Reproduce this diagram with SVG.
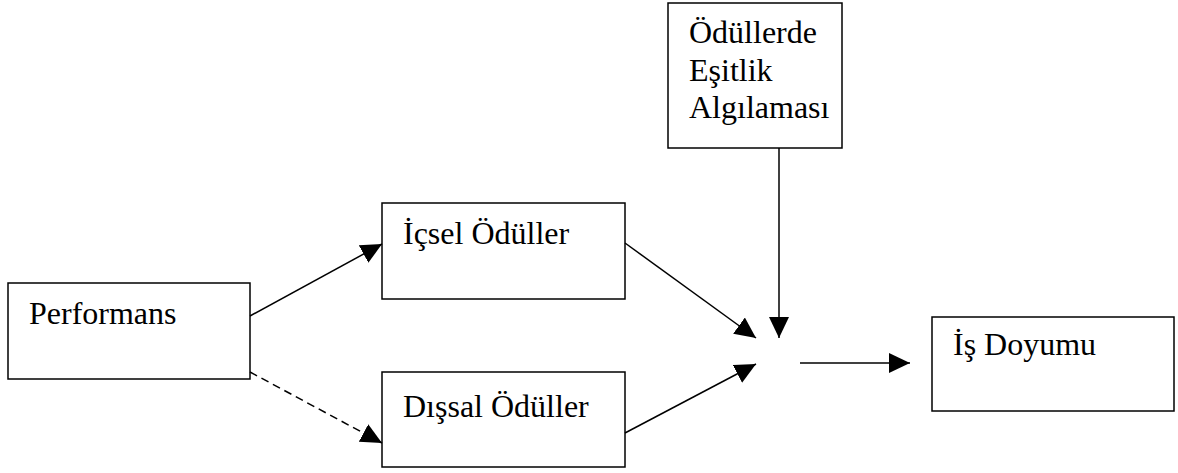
<svg xmlns="http://www.w3.org/2000/svg" width="1178" height="473" viewBox="0 0 1178 473">
  <style>
    .box { fill: #ffffff; stroke: #000000; stroke-width: 1.5; }
    .lbl { font-family: "Liberation Serif", "Times New Roman", serif; font-size: 32px; fill: #000000; }
    .link { fill: none; stroke: #000000; stroke-width: 1.5; }
    .dash { stroke-dasharray: 8 5; }
  </style>
  <defs>
    <marker id="arrow" markerUnits="userSpaceOnUse" markerWidth="22" markerHeight="22" viewBox="0 0 22 22" refX="21" refY="11" orient="auto">
      <path d="M0,1 L21,11 L0,21 Z" fill="#000000"/>
    </marker>
  </defs>

  <rect width="1178" height="473" fill="#ffffff"/>

  <g id="performans">
    <rect class="box" x="8" y="283" width="242" height="96"/>
    <text class="lbl" x="29" y="324">Performans</text>
  </g>

  <g id="icsel-oduller">
    <rect class="box" x="382" y="203" width="243" height="96"/>
    <text class="lbl" x="403" y="244">İçsel Ödüller</text>
  </g>

  <g id="dissal-oduller">
    <rect class="box" x="382" y="372" width="243" height="95"/>
    <text class="lbl" x="403" y="417">Dışsal Ödüller</text>
  </g>

  <g id="esitlik-algilamasi">
    <rect class="box" x="668" y="3" width="174" height="145"/>
    <text class="lbl" x="689" y="43">Ödüllerde</text>
    <text class="lbl" x="689" y="81">Eşitlik</text>
    <text class="lbl" x="689" y="118">Algılaması</text>
  </g>

  <g id="is-doyumu">
    <rect class="box" x="932" y="317" width="242" height="94"/>
    <text class="lbl" x="953" y="355">İş Doyumu</text>
  </g>

  <g id="connectors">
    <line class="link" x1="250" y1="316" x2="382" y2="244" marker-end="url(#arrow)"/>
    <line class="link dash" x1="250" y1="372" x2="382" y2="443" marker-end="url(#arrow)"/>
    <line class="link" x1="625" y1="243" x2="756" y2="338" marker-end="url(#arrow)"/>
    <line class="link" x1="625" y1="433" x2="756" y2="364" marker-end="url(#arrow)"/>
    <line class="link" x1="779" y1="148" x2="779" y2="338" marker-end="url(#arrow)"/>
    <line class="link" x1="800" y1="363" x2="910" y2="363" marker-end="url(#arrow)"/>
  </g>
</svg>
